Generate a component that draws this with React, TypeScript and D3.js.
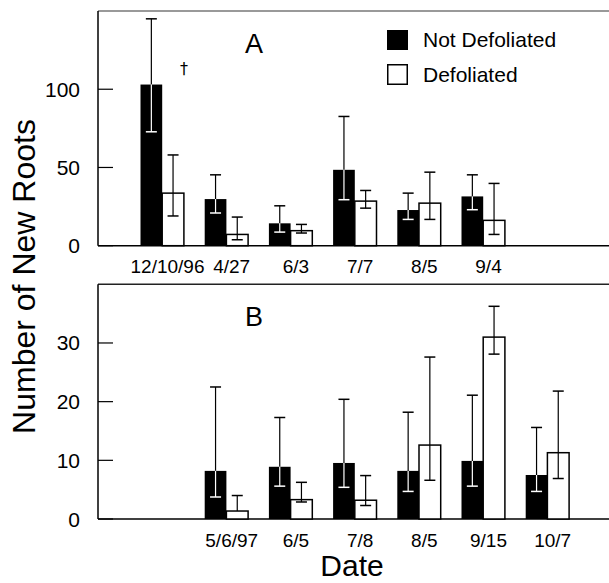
import * as d3 from "d3";

// panel A (1996-97)
const datesA = ["12/10/96", "4/27", "6/3", "7/7", "8/5", "9/4"];
const notDefA = [103, 29.8, 14.3, 48.5, 22.8, 31.5];
const notDefALow = [72.8, 20.9, 8.7, 29.4, 16.8, 23];
const notDefAHigh = [145, 45.3, 25.5, 82.6, 33.6, 45.3];
const defA = [33.6, 7.2, 9.6, 28.5, 27.2, 16.2];
const defALow = [19, 3.8, 8.1, 24, 16.8, 7.2];
const defAHigh = [58, 18.3, 13.6, 35.3, 47, 39.8];
const ticksA = [0, 50, 100];

// panel B (1997)
const datesB = ["5/6/97", "6/5", "7/8", "8/5", "9/15", "10/7"];
const notDefB = [8.2, 8.9, 9.55, 8.2, 9.9, 7.5];
const notDefBLow = [3.75, 5.6, 5.4, 4.7, 5.6, 4.7];
const notDefBHigh = [22.5, 17.3, 20.4, 18.2, 21.1, 15.6];
const defB = [1.36, 3.3, 3.2, 12.6, 31, 11.3];
const defBLow = [1.36, 2.9, 2.3, 6.6, 28.1, 6.9];
const defBHigh = [4.0, 6.25, 7.4, 27.6, 36.25, 21.8];
const ticksB = [0, 10, 20, 30];

const width = 609;
const height = 583;
const font = "'Liberation Sans', Arial, Helvetica, sans-serif";

// shared slot positions; panel A uses slots 0-5, panel B slots 1-6
const x = d3.scaleLinear().domain([-1, 7]).range([98, 611.6]);
const barW = (x(1) - x(0)) * 0.338;
const capW = 5.5;

function ErrBar({ cx, y, v, lo, hi, lowColor }) {
  return (
    <g strokeWidth={1.2}>
      <line x1={cx} x2={cx} y1={y(v)} y2={y(hi)} stroke="black" />
      <line x1={cx - capW} x2={cx + capW} y1={y(hi)} y2={y(hi)} stroke="black" strokeWidth={1.5} />
      {lo < v && (
        <>
          <line x1={cx} x2={cx} y1={y(v)} y2={y(lo)} stroke={lowColor} />
          <line x1={cx - capW} x2={cx + capW} y1={y(lo)} y2={y(lo)} stroke={lowColor} strokeWidth={1.5} />
        </>
      )}
    </g>
  );
}

function Panel({ y, ticks, dates, offset, nd, ndLo, ndHi, df, dfLo, dfHi, letter }) {
  const [y0, yTop] = y.range();
  return (
    <g>
      <line x1={98} x2={width} y1={yTop} y2={yTop} stroke={letter === "A" ? "#777" : "#222"} strokeWidth={1.5} />
      <line x1={98} x2={width} y1={y0} y2={y0} stroke="black" strokeWidth={1.5} />
      <line x1={98} x2={98} y1={yTop} y2={y0} stroke="black" strokeWidth={1.5} />
      {ticks.map((t) => (
        <g key={t}>
          <line x1={98} x2={113} y1={y(t)} y2={y(t)} stroke="black" strokeWidth={1.2} />
          <text x={80} y={y(t) + 7.5} textAnchor="end" fontSize={21} fontFamily={font}>
            {t}
          </text>
        </g>
      ))}
      {dates.map((d, i) => {
        const cx = x(i + offset);
        return (
          <g key={d}>
            <rect x={cx - barW} y={y(nd[i])} width={barW} height={y0 - y(nd[i])} fill="black" />
            <rect
              x={cx}
              y={y(df[i])}
              width={barW}
              height={y0 - y(df[i])}
              fill="white"
              stroke="black"
              strokeWidth={1.5}
            />
            <ErrBar cx={cx - barW / 2} y={y} v={nd[i]} lo={ndLo[i]} hi={ndHi[i]} lowColor="white" />
            <ErrBar cx={cx + barW / 2} y={y} v={df[i]} lo={dfLo[i]} hi={dfHi[i]} lowColor="black" />
            <text x={cx + 5.3} y={y0 + 27.5} textAnchor="middle" fontSize={19} fontFamily={font}>
              {d}
            </text>
          </g>
        );
      })}
      <text x={254} y={yTop + 42} textAnchor="middle" fontSize={27} fontFamily={font}>
        {letter}
      </text>
    </g>
  );
}

export default function App() {
  const yA = d3.scaleLinear().domain([0, 150]).range([245.7, 11]);
  const yB = d3.scaleLinear().domain([0, 40]).range([519, 284.3]);
  return (
    <svg
      width={width}
      height={height}
      style={{ position: "absolute", left: 0, top: 0, background: "white" }}
    >
      <Panel
        y={yA}
        ticks={ticksA}
        dates={datesA}
        offset={0}
        nd={notDefA}
        ndLo={notDefALow}
        ndHi={notDefAHigh}
        df={defA}
        dfLo={defALow}
        dfHi={defAHigh}
        letter="A"
      />
      <Panel
        y={yB}
        ticks={ticksB}
        dates={datesB}
        offset={1}
        nd={notDefB}
        ndLo={notDefBLow}
        ndHi={notDefBHigh}
        df={defB}
        dfLo={defBLow}
        dfHi={defBHigh}
        letter="B"
      />
      {/* significance mark */}
      <text
        x={x(0) + barW}
        y={74}
        textAnchor="middle"
        fontSize={16}
        fill="black"
        fontFamily="'DejaVu Sans', sans-serif"
      >
        †
      </text>
      {/* legend */}
      <rect x={387} y={30} width={21} height={20} fill="black" />
      <rect x={387.75} y={64.75} width={19.5} height={19.5} fill="white" stroke="black" strokeWidth={1.5} />
      <text x={423} y={46.5} fontSize={21} fontFamily={font}>
        Not Defoliated
      </text>
      <text x={423} y={81.5} fontSize={21} fontFamily={font}>
        Defoliated
      </text>
      <text
        transform="translate(35,276.5) rotate(-90)"
        textAnchor="middle"
        fontSize={32}
        fontFamily={font}
      >
        Number of New Roots
      </text>
      <text x={352} y={576} textAnchor="middle" fontSize={30} fontFamily={font}>
        Date
      </text>
    </svg>
  );
}
